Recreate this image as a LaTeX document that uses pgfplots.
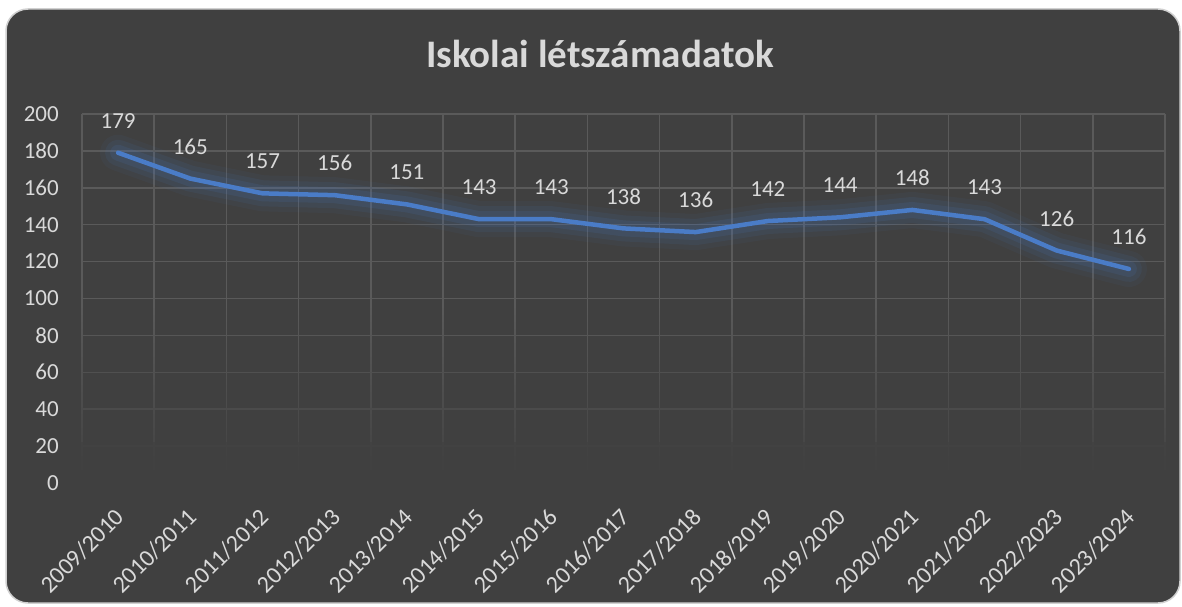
\documentclass[border=0pt]{standalone}
\usepackage{pgfplots}
\pgfplotsset{compat=1.18}
\usepackage{pgfplotstable}
\usepackage{fontspec}
\setmainfont{Carlito}
\usetikzlibrary{fadings}
\definecolor{bgcol}{HTML}{404040}
\definecolor{gridcol}{HTML}{5A5A5A}
\definecolor{txtcol}{HTML}{D9D9D9}
\definecolor{linecol}{HTML}{4A7CC7}
\definecolor{bordercol}{HTML}{D0D0D0}
\pgfplotstableread{
x y
0 179
1 165
2 157
3 156
4 151
5 143
6 143
7 138
8 136
9 142
10 144
11 148
12 143
13 126
14 116
}\datatable
\begin{document}
\begin{tikzpicture}
\useasboundingbox (0pt,0pt) rectangle (1182pt,606pt);
\fill[white] (0pt,0pt) rectangle (1182pt,606pt);
\draw[bordercol, line width=1.5pt, fill=bgcol, rounded corners=22pt] (6pt,3pt) rectangle (1180pt,597pt);
\node[font=\fontsize{39}{46}\selectfont\bfseries, text=txtcol, anchor=base] at (600pt,538pt) {Iskolai létszámadatok};
\begin{axis}[
  at={(82pt,123pt)}, anchor=south west,
  scale only axis, width=1083pt, height=369pt,
  xmin=-0.5, xmax=14.5, ymin=0, ymax=200,
  xtick={0,...,14},
  xticklabels={2009/2010,2010/2011,2011/2012,2012/2013,2013/2014,2014/2015,2015/2016,2016/2017,2017/2018,2018/2019,2019/2020,2020/2021,2021/2022,2022/2023,2023/2024},
  minor xtick={-0.5,0.5,...,14.5},
  ytick={0,20,...,200},
  xminorgrids, ymajorgrids,
  grid style={gridcol, line width=1.5pt},
  minor grid style={gridcol, line width=1.5pt},
  axis line style={draw=none},
  major tick length=0pt, minor tick length=0pt,
  tick style={draw=none},
  /pgf/number format/assume math mode=true,
  ticklabel style={font=\fontsize{23}{27}\selectfont, text=txtcol, inner sep=0pt},
  xticklabel style={font=\fontsize{24}{28}\selectfont, yshift=-30pt, xshift=2pt, rotate=45, anchor=east},
  yticklabel style={anchor=east, xshift=-23pt},
  clip=false,
]
\fill[bgcol, path fading=north] (axis cs:-0.6,-4) rectangle (axis cs:14.6,95);
\fill[bgcol, opacity=0.6] (axis cs:-0.6,-4) rectangle (axis cs:14.6,22);
\addplot[linecol, line width=36pt, opacity=0.06, line join=round, line cap=round] table[x=x,y=y] {\datatable};
\addplot[linecol, line width=26pt, opacity=0.09, line join=round, line cap=round] table[x=x,y=y] {\datatable};
\addplot[linecol, line width=16pt, opacity=0.12, line join=round, line cap=round] table[x=x,y=y] {\datatable};
\addplot[linecol, line width=4.5pt, line join=round, line cap=round,
  nodes near coords,
  every node near coord/.append style={font=\fontsize{23}{27}\selectfont, text=txtcol, anchor=center, yshift=32pt, opacity=1}
  ] table[x=x,y=y] {\datatable};
\end{axis}
\end{tikzpicture}
\end{document}
